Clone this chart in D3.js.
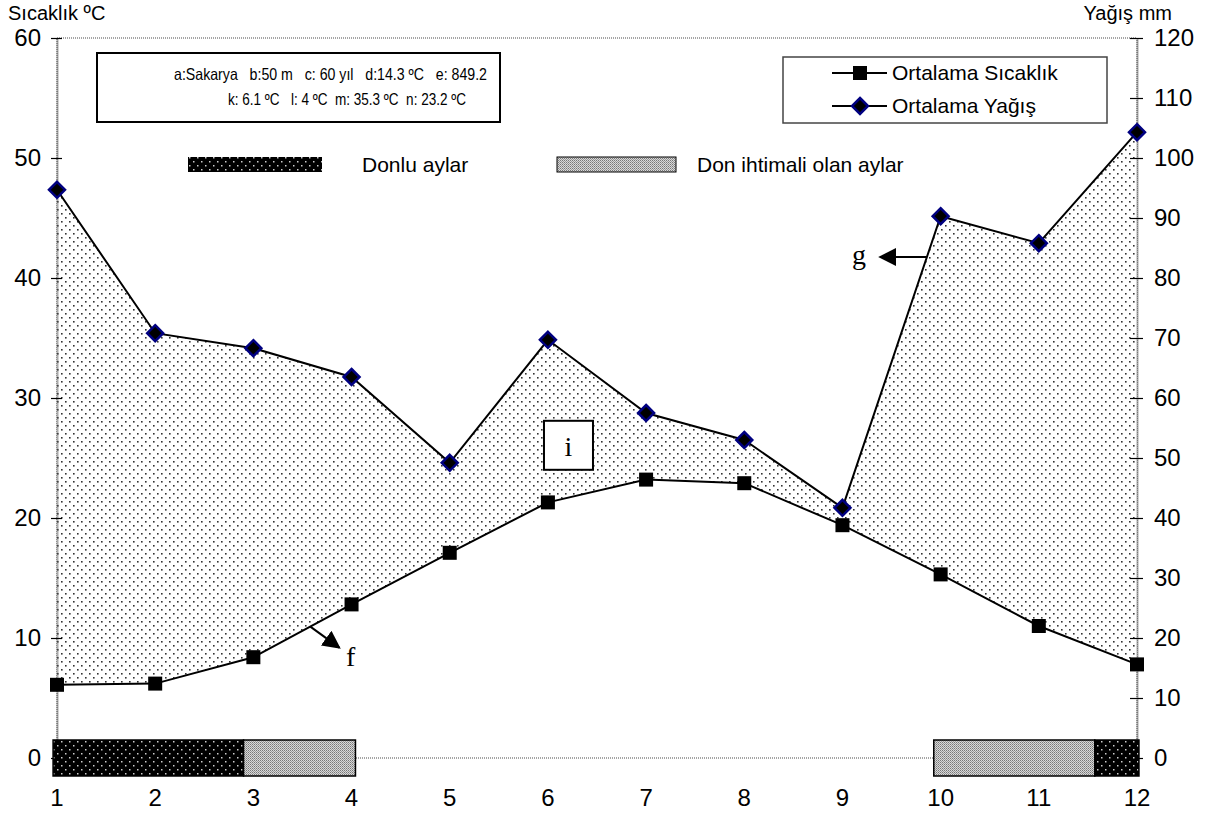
<!DOCTYPE html>
<html>
<head>
<meta charset="utf-8">
<script src="https://cdn.jsdelivr.net/npm/d3@7"></script>
<style>
  body { margin: 0; background: #fff; }
  svg text { font-family: "Liberation Sans", Arial, sans-serif; white-space: pre; }
  .serif { font-family: "Liberation Serif", "Times New Roman", serif; }
</style>
</head>
<body>
<svg id="chart" width="1220" height="813"></svg>
<script>
// monthly climate data, Sakarya
var months = [1, 2, 3, 4, 5, 6, 7, 8, 9, 10, 11, 12];
var tempValues = [6.1, 6.2, 8.4, 12.8, 17.1, 21.3, 23.2, 22.9, 19.4, 15.3, 11.0, 7.8];
var precipValues = [94.7, 70.8, 68.3, 63.5, 49.2, 69.7, 57.5, 53.0, 41.7, 90.3, 85.8, 104.3];
var tempTicks = [0, 10, 20, 30, 40, 50, 60];
var precipTicks = [0, 10, 20, 30, 40, 50, 60, 70, 80, 90, 100, 110, 120];

// frost bar segments (in months)
var frostFrom = [0.96, 2.9, 9.93, 11.57];
var frostTo = [2.9, 4.04, 11.57, 12.02];
var frostKind = ["don", "ihtimal", "ihtimal", "don"];

var infoLine1 = "a:Sakarya   b:50 m   c: 60 yıl   d:14.3 ºC   e: 849.2";
var infoLine2 = "k: 6.1 ºC   l: 4 ºC  m: 35.3 ºC  n: 23.2 ºC";
var seriesNames = ["Ortalama Sıcaklık", "Ortalama Yağış"];

var svg = d3.select("#chart");
var pLeft = 57, pRight = 1137, pTop = 38, pBottom = 758;

var x = d3.scaleLinear().domain([1, 12]).range([pLeft, pRight]);
var yT = d3.scaleLinear().domain([0, 60]).range([pBottom, pTop]);
var yP = d3.scaleLinear().domain([0, 120]).range([pBottom, pTop]);

// patterns
var defs = svg.append("defs");
var pDots = defs.append("pattern").attr("id", "dots").attr("patternUnits", "userSpaceOnUse")
    .attr("width", 8).attr("height", 8);
pDots.append("rect").attr("width", 8).attr("height", 8).attr("fill", "#fff");
pDots.append("rect").attr("x", 1).attr("y", 1).attr("width", 1.6).attr("height", 1.6).attr("fill", "#333");
pDots.append("rect").attr("x", 5).attr("y", 5).attr("width", 1.6).attr("height", 1.6).attr("fill", "#333");

var pDon = defs.append("pattern").attr("id", "don").attr("patternUnits", "userSpaceOnUse")
    .attr("width", 8).attr("height", 8);
pDon.append("rect").attr("width", 8).attr("height", 8).attr("fill", "#000");
pDon.append("rect").attr("x", 1).attr("y", 1).attr("width", 1.5).attr("height", 1.5).attr("fill", "#ccc");
pDon.append("rect").attr("x", 5).attr("y", 5).attr("width", 1.5).attr("height", 1.5).attr("fill", "#ccc");

var pIht = defs.append("pattern").attr("id", "ihtimal").attr("patternUnits", "userSpaceOnUse")
    .attr("width", 2).attr("height", 2);
pIht.append("rect").attr("width", 2).attr("height", 2).attr("fill", "#d8d8d8");
pIht.append("rect").attr("width", 1).attr("height", 1).attr("fill", "#777");
pIht.append("rect").attr("x", 1).attr("y", 1).attr("width", 1).attr("height", 1).attr("fill", "#999");

// plot frame (dotted)
svg.append("rect").attr("x", pLeft).attr("y", pTop).attr("width", pRight - pLeft).attr("height", pBottom - pTop)
    .attr("fill", "none").attr("stroke", "#888").attr("stroke-width", 1.5).attr("stroke-dasharray", "1,1");

// filled area between the two lines
var rows = months.map(function (m, i) { return { m: m, t: tempValues[i], p: precipValues[i] }; });
var area = d3.area()
    .x(function (d) { return x(d.m); })
    .y0(function (d) { return yT(d.t); })
    .y1(function (d) { return yP(d.p); });
svg.append("path").datum(rows).attr("d", area).attr("fill", "url(#dots)");

// axes
var axL = svg.append("g").attr("transform", "translate(" + pLeft + ",0)")
    .call(d3.axisLeft(yT).tickValues(tempTicks).tickSizeOuter(0).tickSizeInner(6).tickPadding(10));
var axR = svg.append("g").attr("transform", "translate(" + pRight + ",0)")
    .call(d3.axisRight(yP).tickValues(precipTicks).tickSizeOuter(0).tickSizeInner(6).tickPadding(11));
[axL, axR].forEach(function (ax) {
    ax.select(".domain").attr("stroke", "#555").attr("stroke-width", 2).attr("stroke-dasharray", "1,1");
    ax.selectAll(".tick line").attr("stroke", "#000").attr("stroke-width", 1.2);
    ax.selectAll(".tick text").attr("font-size", 24).attr("font-family", "Liberation Sans, Arial, sans-serif");
});
axL.selectAll(".tick line").attr("x1", 5);
axR.selectAll(".tick line").attr("x1", -7);

svg.append("g").selectAll("text").data(months).enter().append("text")
    .attr("x", function (d) { return x(d); }).attr("y", 806)
    .attr("text-anchor", "middle").attr("font-size", 24).text(function (d) { return d; });

svg.append("text").attr("x", 8).attr("y", 20).attr("font-size", 20).text("Sıcaklık ºC");
svg.append("text").attr("x", 1172).attr("y", 20).attr("font-size", 20).attr("text-anchor", "end").text("Yağış mm");

// frost bars on the zero line
var barH = 36;
var frost = frostFrom.map(function (f, i) { return { a: f, b: frostTo[i], k: frostKind[i] }; });
svg.append("g").selectAll("rect").data(frost).enter().append("rect")
    .attr("x", function (d) { return x(d.a); })
    .attr("width", function (d) { return x(d.b) - x(d.a); })
    .attr("y", yT(0) - barH / 2).attr("height", barH)
    .attr("fill", function (d) { return "url(#" + d.k + ")"; })
    .attr("stroke", "#000").attr("stroke-width", 1.5);

// lines
var lineT = d3.line().x(function (d) { return x(d.m); }).y(function (d) { return yT(d.t); });
var lineP = d3.line().x(function (d) { return x(d.m); }).y(function (d) { return yP(d.p); });
svg.append("path").datum(rows).attr("d", lineP).attr("fill", "none").attr("stroke", "#000").attr("stroke-width", 2);
svg.append("path").datum(rows).attr("d", lineT).attr("fill", "none").attr("stroke", "#000").attr("stroke-width", 2);

var diamond = "M0,-8L8,0L0,8L-8,0Z";
svg.append("g").selectAll("path").data(rows).enter().append("path")
    .attr("transform", function (d) { return "translate(" + x(d.m) + "," + yP(d.p) + ")"; })
    .attr("d", diamond).attr("fill", "#000").attr("stroke", "#000080").attr("stroke-width", 2.5);
svg.append("g").selectAll("rect").data(rows).enter().append("rect")
    .attr("x", function (d) { return x(d.m) - 7; }).attr("y", function (d) { return yT(d.t) - 7; })
    .attr("width", 14).attr("height", 14).attr("fill", "#000");

// info box
svg.append("rect").attr("x", 97).attr("y", 53).attr("width", 403).attr("height", 69)
    .attr("fill", "#fff").attr("stroke", "#000").attr("stroke-width", 2);
svg.append("text").attr("x", 174).attr("y", 80).attr("font-size", 16.5)
    .attr("textLength", 313).attr("lengthAdjust", "spacingAndGlyphs").text(infoLine1);
svg.append("text").attr("x", 228).attr("y", 105).attr("font-size", 16.5)
    .attr("textLength", 238).attr("lengthAdjust", "spacingAndGlyphs").text(infoLine2);

// series legend
var lg = svg.append("g");
lg.append("rect").attr("x", 783).attr("y", 57).attr("width", 324).attr("height", 66)
    .attr("fill", "#fff").attr("stroke", "#444").attr("stroke-width", 1.5);
[73, 106].forEach(function (yy, i) {
    lg.append("line").attr("x1", 832).attr("x2", 887).attr("y1", yy).attr("y2", yy)
        .attr("stroke", "#000").attr("stroke-width", 2);
    if (i === 0) {
        lg.append("rect").attr("x", 853).attr("y", yy - 7).attr("width", 14).attr("height", 14).attr("fill", "#000");
    } else {
        lg.append("path").attr("transform", "translate(860," + yy + ")").attr("d", diamond)
            .attr("fill", "#000").attr("stroke", "#000080").attr("stroke-width", 2.5);
    }
    lg.append("text").attr("x", 892).attr("y", yy + 7).attr("font-size", 21).text(seriesNames[i]);
});

// frost legend
svg.append("rect").attr("x", 188).attr("y", 157).attr("width", 134).attr("height", 15).attr("fill", "url(#don)");
svg.append("text").attr("x", 362).attr("y", 172).attr("font-size", 21).text("Donlu aylar");
svg.append("rect").attr("x", 557).attr("y", 157).attr("width", 119).attr("height", 15)
    .attr("fill", "url(#ihtimal)").attr("stroke", "#000").attr("stroke-width", 1);
svg.append("text").attr("x", 697).attr("y", 172).attr("font-size", 21).text("Don ihtimali olan aylar");

// annotations
defs.append("marker").attr("id", "arr").attr("viewBox", "0 0 10 10").attr("refX", 9).attr("refY", 5)
    .attr("markerWidth", 18).attr("markerHeight", 18).attr("markerUnits", "userSpaceOnUse")
    .attr("orient", "auto").append("path").attr("d", "M0,0L10,5L0,10Z").attr("fill", "#000");

var fm = 3.58, ft = tempValues[2] + (tempValues[3] - tempValues[2]) * (fm - 3);
svg.append("line").attr("x1", x(fm)).attr("y1", yT(ft)).attr("x2", x(fm) + 29).attr("y2", yT(ft) + 21)
    .attr("stroke", "#000").attr("stroke-width", 2).attr("marker-end", "url(#arr)");
svg.append("text").attr("class", "serif").attr("x", 346).attr("y", 666).attr("font-size", 28).text("f");

var gm = 9.86, gp = precipValues[8] + (precipValues[9] - precipValues[8]) * (gm - 9);
svg.append("line").attr("x1", x(gm)).attr("y1", yP(gp)).attr("x2", 880).attr("y2", yP(gp))
    .attr("stroke", "#000").attr("stroke-width", 2).attr("marker-end", "url(#arr)");
svg.append("text").attr("class", "serif").attr("x", 852).attr("y", 264).attr("font-size", 28).text("g");

svg.append("rect").attr("x", x(5.96)).attr("y", yT(28.1)).attr("width", 49).attr("height", 49)
    .attr("fill", "#fff").attr("stroke", "#000").attr("stroke-width", 2);
svg.append("text").attr("class", "serif").attr("x", x(5.96) + 24.5).attr("y", yT(28.1) + 35)
    .attr("text-anchor", "middle").attr("font-size", 28).text("i");
</script>
</body>
</html>
